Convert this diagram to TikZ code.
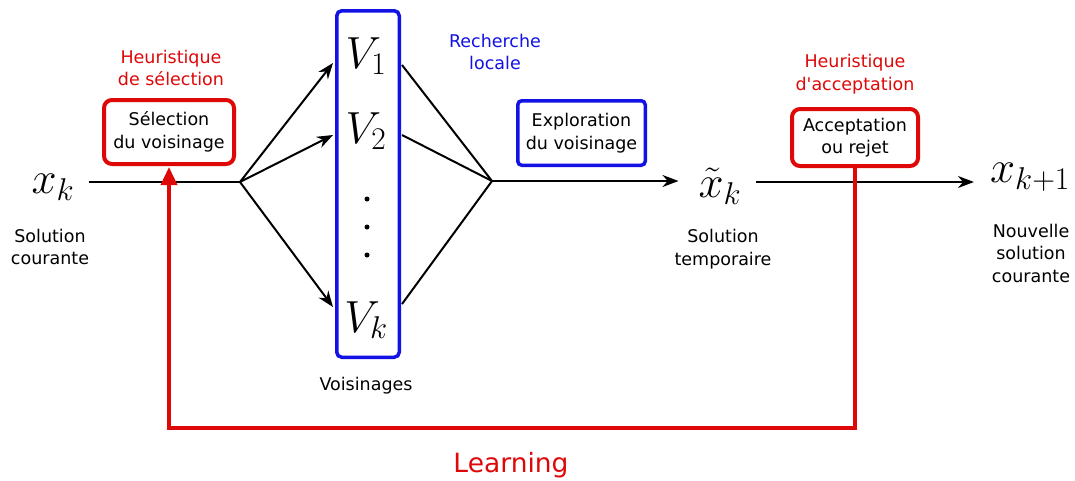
\RequirePackage{fix-cm}
\documentclass[tikz,border=0pt]{standalone}
\usepackage[no-math]{fontspec}
\setmainfont{DejaVu Sans}[Ligatures=TeXOff]
\usetikzlibrary{arrows.meta}
\definecolor{myred}{RGB}{222,8,8}
\definecolor{myblue}{RGB}{18,18,228}
\begin{document}
\begin{tikzpicture}[x=1pt,y=-1pt,
  lbl/.style={font=\fontsize{17.5}{22.5}\selectfont, align=center, inner sep=0pt},
  mth/.style={font=\fontsize{45}{54}\selectfont, inner sep=0pt},
  redbox/.style={draw=myred, line width=4pt, rounded corners=8pt, align=center,
    font=\fontsize{17.5}{22.5}\selectfont, inner sep=0pt},
  bluebox/.style={draw=myblue, line width=3.5pt, rounded corners=4pt, align=center,
    font=\fontsize{17.5}{22.5}\selectfont, inner sep=0pt},
  blk/.style={line width=2pt, draw=black},
  arr/.style={blk, -{Stealth[length=16pt,width=12pt]}},
  redarr/.style={draw=myred, line width=3.5pt, line join=miter, -{Triangle[length=18pt,width=16pt]}},
  dotnode/.style={circle, fill=black, inner sep=0pt, minimum size=5pt}
]
\useasboundingbox (0,0) rectangle (1075,480);

% left solution
\node[mth] (xk) at (53,187) {$x_k$};
\node[lbl] (solc) at (50,247) {Solution\\courante};

% selection
\node[lbl, text=myred] (hs) at (171,68) {Heuristique\\de sélection};
\node[redbox, minimum width=130pt, minimum height=64pt] (sel) at (169,132) {Sélection\\du voisinage};

% neighbourhoods
\node[draw=myblue, line width=3.5pt, rounded corners=5pt, minimum width=62.5pt,
  minimum height=346.5pt, inner sep=0pt] (vbox) at (368,184) {};
\node[mth] (v1) at (366,56) {$V_1$};
\node[mth] (v2) at (366,131) {$V_2$};
\node[dotnode] (d1) at (367,199) {};
\node[dotnode] (d2) at (367,227) {};
\node[dotnode] (d3) at (367,255) {};
\node[mth] (vk) at (366,320) {$V_k$};
\node[lbl] (vois) at (366,386) {Voisinages};

% local search
\node[lbl, text=myblue] (rl) at (495,52) {Recherche\\locale};
\node[bluebox, minimum width=127.5pt, minimum height=64.5pt] (expl) at (581.5,133) {Exploration\\du voisinage};

% temporary solution
\node[mth] (xt) at (720,186) {$\tilde{x}_k$};
\node[lbl] (solt) at (723,249) {Solution\\temporaire};

% acceptance
\node[lbl, text=myred] (ha) at (855,74) {Heuristique\\d'acceptation};
\node[redbox, minimum width=126pt, minimum height=57pt] (acc) at (855,137.5) {Acceptation\\ou rejet};

% new solution
\node[mth] (xk1) at (1030,177) {$x_{k+1}$};
\node[lbl] (soln) at (1031,253) {Nouvelle\\solution\\courante};

% learning
\node[font=\fontsize{26.5}{32}\selectfont, text=myred, inner sep=0pt] (learn) at (511,465) {Learning};

% branch / merge points
\coordinate (br) at (240,182);
\coordinate (mg) at (492,181);
\coordinate (t1) at (333,63);
\coordinate (t2) at (333,135);
\coordinate (tk) at (333,307);
\coordinate (s1) at (402,65);
\coordinate (s2) at (402,135);
\coordinate (sk) at (402,304);
\coordinate (lr) at (855,428);

% black connectors
\draw[blk] ([xshift=14pt]xk.east |- br) -- (br);
\draw[arr] (br) -- (t1);
\draw[arr] (br) -- (t2);
\draw[arr] (br) -- (tk);
\draw[blk] (s1) -- (mg);
\draw[blk] (s2) -- (mg);
\draw[blk] (sk) -- (mg);
\draw[arr] (mg) -- ([xshift=-20pt]xt.west |- mg);
\draw[arr] ([xshift=14pt]xt.east |- 0,182) -- ([xshift=-16pt]xk1.west |- 0,182);

% red learning loop
\draw[redarr] (acc.south) -- (lr) -- (sel.south |- lr) -- ([yshift=-1pt]sel.south);
\end{tikzpicture}
\end{document}
